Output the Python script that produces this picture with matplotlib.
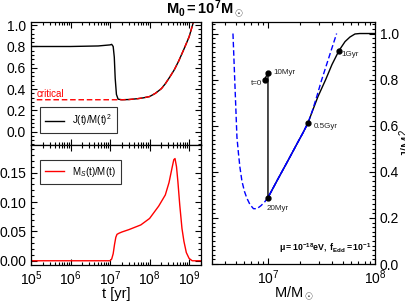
import numpy as np
import matplotlib
matplotlib.use("Agg")
import matplotlib.pyplot as plt
from matplotlib.ticker import MultipleLocator, LogLocator, NullFormatter

plt.rcParams['font.family'] = ['Liberation Sans', 'DejaVu Sans']
plt.rcParams['mathtext.fontset'] = 'custom'
plt.rcParams['mathtext.rm'] = 'Liberation Sans'
plt.rcParams['mathtext.it'] = 'Liberation Sans:italic'
plt.rcParams['mathtext.bf'] = 'Liberation Sans:bold'
plt.rcParams['font.size'] = 10

# --- left top: J/M^2 vs time
t_spin = [1e5, 1e6, 5e6, 1e7, 1.1e7, 1.2e7, 1.28e7, 1.35e7, 1.45e7, 1.6e7, 2e7, 3e7,
          5e7, 7e7, 1e8, 1.4e8, 2e8, 2.5e8, 3.2e8, 4.2e8, 5.4e8, 7.3e8, 1e9, 1.22e9, 1.45e9]
spin = [0.80, 0.80, 0.805, 0.815, 0.82, 0.80, 0.70, 0.50, 0.35, 0.305, 0.30, 0.302,
        0.31, 0.318, 0.33, 0.36, 0.405, 0.45, 0.51, 0.58, 0.66, 0.77, 0.89, 1.0, 1.1]
t_crit = [1.4e5, 1e6, 1e7, 2e7, 3e7, 5e7, 7e7, 1e8, 1.4e8, 2e8, 2.5e8, 3.2e8, 4.2e8,
          5.4e8, 7.3e8, 1e9, 1.22e9, 1.45e9]
crit = [0.30, 0.30, 0.30, 0.30, 0.302, 0.31, 0.318, 0.33, 0.36, 0.405, 0.45, 0.51, 0.58,
        0.66, 0.77, 0.89, 1.0, 1.1]

# --- left bottom: M_S/M vs time
t_cloud = [1e5, 1e7, 1.1e7, 1.2e7, 1.3e7, 1.4e7, 1.5e7, 1.7e7, 2e7, 3e7, 6e7, 1e8,
           1.7e8, 2.5e8, 3.1e8, 3.7e8, 4.1e8, 4.4e8, 4.8e8, 5.2e8, 5.8e8, 6.6e8,
           7.4e8, 8.5e8, 1e9, 1.2e9, 2e9]
cloud = [0.0, 0.0, 0.003, 0.012, 0.028, 0.040, 0.045, 0.047, 0.049, 0.053, 0.061, 0.072,
         0.093, 0.112, 0.133, 0.158, 0.172, 0.174, 0.160, 0.135, 0.095, 0.055,
         0.033, 0.014, 0.004, 0.0, 0.0]

# --- right: Regge plane, critical curve and trajectory
m_crit = [4.71e6, 4.92e6, 5.13e6, 5.30e6, 5.47e6, 5.71e6, 6.03e6, 6.36e6, 6.79e6,
          7.32e6, 7.89e6, 8.6e6, 9.27e6, 1.0e7, 1.24e7, 1.54e7, 1.91e7, 2.14e7,
          2.37e7, 2.6e7, 2.85e7, 3.16e7, 3.72e7, 4.38e7]
j_crit = [1.0, 0.77, 0.55, 0.48, 0.42, 0.36, 0.315, 0.285, 0.258,
          0.240, 0.240, 0.253, 0.268, 0.288, 0.369, 0.449, 0.530, 0.572,
          0.613, 0.665, 0.725, 0.796, 0.898, 1.0]
m_traj = [0.93e7, 1.0e7, 1.0e7, 1.24e7, 1.54e7, 1.91e7, 2.14e7, 2.37e7, 2.58e7,
          2.93e7, 3.46e7, 3.96e7, 4.61e7, 5.25e7, 5.84e7, 6.5e7, 7.2e7, 1e8]
j_traj = [0.80, 0.83, 0.288, 0.369, 0.449, 0.530, 0.572, 0.613, 0.659,
          0.726, 0.80, 0.865, 0.926, 0.965, 0.985, 0.998, 1.0, 1.0]
pt_m = [0.93e7, 1.0e7, 1.0e7, 2.37e7, 4.61e7]
pt_j = [0.80, 0.83, 0.288, 0.613, 0.926]
pt_lab = ["t=0", "10Myr", "20Myr", "0.5Gyr", "1Gyr"]

W, H = 405, 303
fig = plt.figure(figsize=(W / 100, H / 100), dpi=100)
ax1 = fig.add_axes([31 / W, 1 - 145 / H, 170 / W, 123 / H])
ax2 = fig.add_axes([31 / W, 1 - 265 / H, 170 / W, 120 / H])
ax3 = fig.add_axes([212 / W, 1 - 264 / H, 163 / W, 242 / H])


def style(ax):
    ax.tick_params(which='both', direction='in', top=True, right=True, width=0.8,
                   labelsize=10)
    ax.tick_params(which='major', length=4.5)
    ax.tick_params(which='minor', length=2.5)
    for s in ax.spines.values():
        s.set_linewidth(0.9)


for ax in (ax1, ax2):
    ax.set_xscale('log')
    ax.set_xlim(1e5, 2e9)
    ax.xaxis.set_major_locator(LogLocator(base=10, numticks=10))
    ax.xaxis.set_minor_locator(LogLocator(base=10, subs=np.arange(2, 10), numticks=20))
    ax.xaxis.set_minor_formatter(NullFormatter())
    style(ax)

ax1.plot(t_spin, spin, color='black', lw=1.0, label='J(t)/M(t)$^2$')
ax1.plot(t_crit, crit, color='red', lw=1.0, ls=(0, (4, 2)))
ax1.text(1.4e5, 0.325, 'critical', color='red', fontsize=7)
ax1.set_ylim(-0.125, 1.03)
ax1.yaxis.set_major_locator(MultipleLocator(0.2))
ax1.yaxis.set_minor_locator(MultipleLocator(0.04))
ax1.tick_params(labelbottom=False)
ax1.legend(loc='lower left', bbox_to_anchor=(0.053, 0.098), borderaxespad=0,
           fontsize=7, frameon=True, fancybox=False, edgecolor='black',
           handlelength=2.0, borderpad=0.5).get_frame().set_linewidth(0.8)

ax2.plot(t_cloud, cloud, color='red', lw=1.0, label='M$_S$(t)/M(t)')
ax2.set_ylim(-0.0072, 0.197)
ax2.yaxis.set_major_locator(MultipleLocator(0.05))
ax2.yaxis.set_minor_locator(MultipleLocator(0.01))
ax2.yaxis.set_major_formatter(plt.FormatStrFormatter('%.2f'))
ax2.set_xlabel('t [yr]', fontsize=10.5, labelpad=-1)
ax2.legend(loc='upper left', bbox_to_anchor=(0.053, 0.875), borderaxespad=0,
           fontsize=7, frameon=True, fancybox=False, edgecolor='black',
           handlelength=2.0, borderpad=0.5).get_frame().set_linewidth(0.8)

ax3.set_xscale('log')
ax3.set_xlim(3e6, 1e8)
ax3.set_ylim(0, 1.05)
ax3.plot(m_traj, j_traj, color='black', lw=1.0)
ax3.plot(m_crit, j_crit, color='blue', lw=1.0, ls=(0, (4, 2)))
# where the trajectory rides on the critical curve it shows as solid blue
ax3.plot(m_crit[13:19], j_crit[13:19], color='blue', lw=1.0)
ax3.plot(pt_m, pt_j, 'o', color='black', ms=3.5)
offs = [(-2, -3, 'right'), (4, 0, 'left'), (-1, -8, 'left'), (4, -3, 'left'), (2, -3, 'left')]
for m, j, lab, (dx, dy, ha) in zip(pt_m, pt_j, pt_lab, offs):
    ax3.annotate(lab, (m, j), xytext=(dx, dy), textcoords='offset points',
                 fontsize=5.8, ha=ha, va='center', color='#222222')
ax3.text(0.98, 0.065, r'$\mathbf{\mu=10^{-18}eV,\ f_{Edd}=10^{-1}}$', transform=ax3.transAxes,
         ha='right', va='center', fontsize=6.3)
ax3.yaxis.set_major_locator(MultipleLocator(0.2))
ax3.yaxis.set_minor_locator(MultipleLocator(0.02))
ax3.yaxis.set_major_formatter(plt.FormatStrFormatter('%.1f'))
ax3.xaxis.set_major_locator(LogLocator(base=10, numticks=10))
ax3.xaxis.set_minor_locator(LogLocator(base=10, subs=np.arange(2, 10), numticks=20))
ax3.xaxis.set_minor_formatter(NullFormatter())
style(ax3)
ax3.tick_params(labelleft=False, labelright=True)
ax3.yaxis.set_label_position('right')
ax3.set_ylabel('J/M$^2$', fontsize=10, labelpad=-1)
ax3.set_xlabel(r'M/M$_\odot$', fontsize=10.5, labelpad=-2)

fig.text(205 / W, 1 - 9 / H, r'$\mathbf{M_0=10^7M_\odot}$', ha='center', va='center', fontsize=10.5)

fig.savefig('out.png', dpi=100)
